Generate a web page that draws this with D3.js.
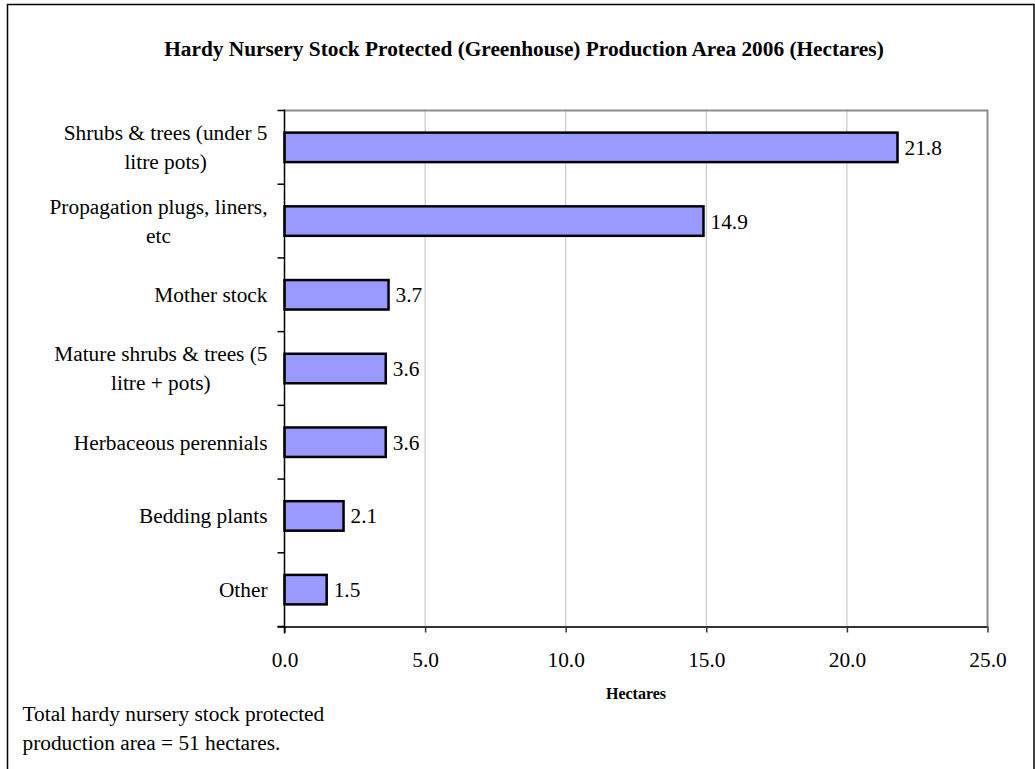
<!DOCTYPE html>
<html>
<head>
<meta charset="utf-8">
<script src="https://cdn.jsdelivr.net/npm/d3@7/dist/d3.min.js"></script>
<style>
  html, body { margin: 0; padding: 0; background: #fff; }
  svg { display: block; }
  text { font-family: "Liberation Serif", "Times New Roman", serif; fill: #000; }
</style>
</head>
<body>
<svg id="chart" width="1035" height="769"></svg>
<script>
// ---- Data ----
const categories = [
  "Shrubs & trees (under 5\nlitre pots)",
  "Propagation plugs, liners,\netc",
  "Mother stock",
  "Mature shrubs & trees (5\nlitre + pots)",
  "Herbaceous perennials",
  "Bedding plants",
  "Other"
];
const values = [21.8, 14.9, 3.7, 3.6, 3.6, 2.1, 1.5];
const xTicks = [0, 5, 10, 15, 20, 25];
const titleText = "Hardy Nursery Stock Protected (Greenhouse) Production Area 2006 (Hectares)";
const xAxisTitle = "Hectares";
const footnoteLines = ["Total hardy nursery stock protected", "production area = 51 hectares."];

// ---- Layout ----
const W = 1035, H = 769;
const plot = { left: 284.5, right: 987.5, top: 110.5, bottom: 626.5 };
const svg = d3.select("#chart");

// outer frame
svg.append("path")
  .attr("d", `M7.5,${H + 5} V4.5 H1034 V${H + 5}`)
  .attr("fill", "none").attr("stroke", "#000").attr("stroke-width", 1.5);

const x = d3.scaleLinear().domain([0, 25]).range([plot.left, plot.right]);
const y = d3.scaleBand().domain(categories).range([plot.top, plot.bottom]).paddingInner(0.6).paddingOuter(0.3);
const yStep = d3.scaleBand().domain(categories).range([plot.top, plot.bottom]).padding(0);

// title
svg.append("text")
  .attr("x", 524).attr("y", 55.5)
  .attr("text-anchor", "middle")
  .style("font-size", "21.33px").style("font-weight", "bold")
  .text(titleText);

// gridlines
svg.append("g").selectAll("line")
  .data(xTicks.filter(d => d > 0 && d < 25))
  .join("line")
  .attr("x1", d => x(d)).attr("x2", d => x(d))
  .attr("y1", plot.top).attr("y2", plot.bottom)
  .attr("stroke", "#c0c0c0").attr("stroke-width", 1);

// plot border top/right (gray)
svg.append("path")
  .attr("d", `M${plot.left},${plot.top} H${plot.right} V${plot.bottom}`)
  .attr("fill", "none").attr("stroke", "#8c8c8c").attr("stroke-width", 2);

// bars
svg.append("g").selectAll("rect")
  .data(values)
  .join("rect")
  .attr("x", x(0))
  .attr("y", (d, i) => y(categories[i]))
  .attr("width", d => x(d) - x(0))
  .attr("height", y.bandwidth())
  .attr("fill", "#9999ff")
  .attr("stroke", "#000").attr("stroke-width", 2.5);

// value labels
svg.append("g").selectAll("text")
  .data(values)
  .join("text")
  .attr("x", d => x(d) + 7)
  .attr("y", (d, i) => y(categories[i]) + y.bandwidth() / 2)
  .attr("dy", "0.35em")
  .style("font-size", "21.33px")
  .text(d => d.toFixed(1));

// x axis
const xAxis = d3.axisBottom(x).tickValues(xTicks).tickFormat(d3.format(".1f")).tickSize(6).tickPadding(19);
const gx = svg.append("g").attr("transform", `translate(0,${plot.bottom})`).call(xAxis);
gx.select(".domain").attr("stroke", "#333").attr("stroke-width", 2)
  .attr("d", `M${plot.left - 7},0.5H${plot.right}`);
gx.selectAll(".tick line").attr("stroke", "#333").attr("stroke-width", 1.5);
gx.selectAll(".tick text")
  .style("font-family", "Liberation Serif, Times New Roman, serif")
  .style("font-size", "21.33px").attr("fill", "#000");

// y axis line + ticks at band boundaries
svg.append("line")
  .attr("x1", plot.left).attr("x2", plot.left)
  .attr("y1", plot.top - 1).attr("y2", plot.bottom + 7)
  .attr("stroke", "#000").attr("stroke-width", 1.5);
const bounds = categories.map(c => yStep(c)).concat([plot.bottom]);
svg.append("g").selectAll("line")
  .data(bounds)
  .join("line")
  .attr("x1", plot.left - 7).attr("x2", plot.left)
  .attr("y1", d => d).attr("y2", d => d)
  .attr("stroke", "#000").attr("stroke-width", 1.5);

// category labels (multi-line, centered block, right-aligned to axis)
const lineH = 29;
const labelRight = 267.5;
categories.forEach((c, i) => {
  const lines = c.split("\n");
  const cy = yStep(c) + yStep.bandwidth() / 2;
  const t = svg.append("text")
    .attr("text-anchor", "middle")
    .style("font-size", "21.33px");
  lines.forEach((ln, j) => {
    t.append("tspan")
      .attr("y", cy + (j - (lines.length - 1) / 2) * lineH)
      .attr("dy", "0.35em")
      .text(ln);
  });
  let maxW = 0;
  t.selectAll("tspan").each(function() { maxW = Math.max(maxW, this.getComputedTextLength()); });
  t.selectAll("tspan").attr("x", labelRight - maxW / 2);
});

// x axis title
svg.append("text")
  .attr("x", (plot.left + plot.right) / 2).attr("y", 699)
  .attr("text-anchor", "middle")
  .style("font-size", "16px").style("font-weight", "bold")
  .text(xAxisTitle);

// footnote
svg.append("g").selectAll("text")
  .data(footnoteLines)
  .join("text")
  .attr("x", 22.5)
  .attr("y", (d, i) => 721 + i * 28.5)
  .style("font-size", "21.33px")
  .text(d => d);
</script>
</body>
</html>
